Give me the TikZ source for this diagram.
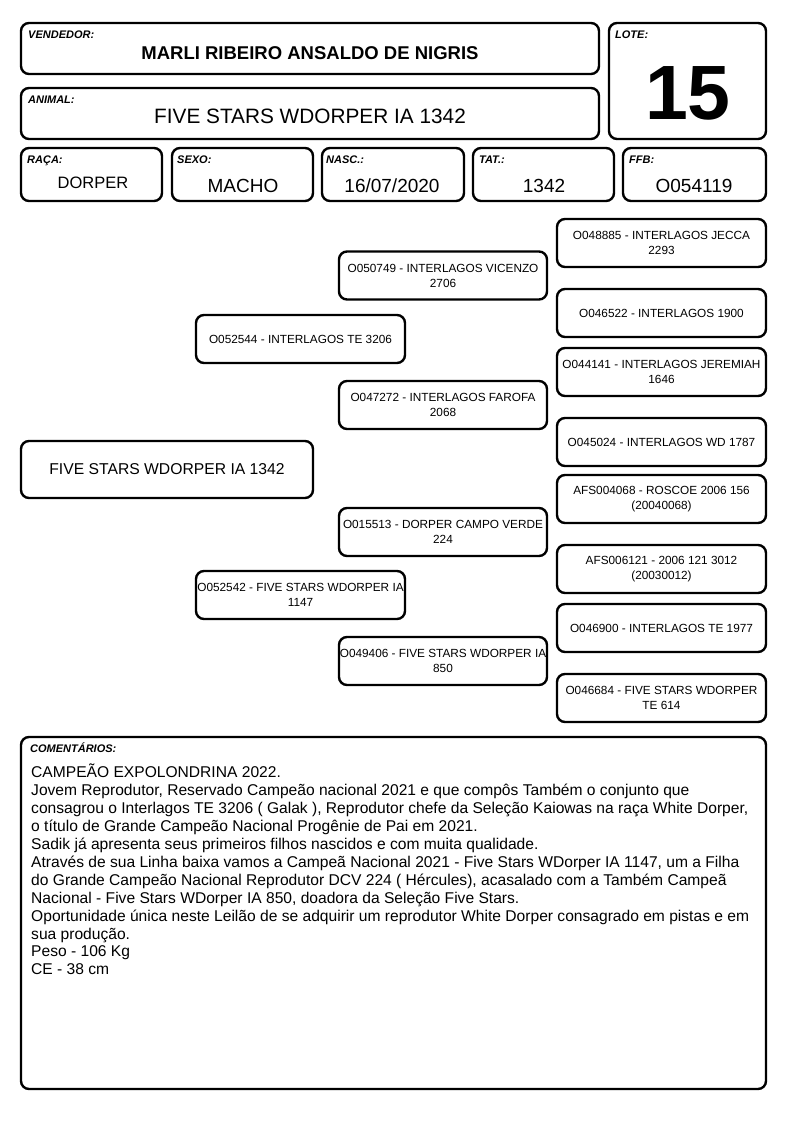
\documentclass[tikz,border=0pt]{standalone}
\usepackage{fontspec}
\setmainfont{Liberation Sans}
\begin{document}
\begin{tikzpicture}[x=1pt,y=-1pt,
  box/.style={draw,line width=2.4pt,rounded corners=8pt,inner sep=0pt,outer sep=0pt},
  lbl/.style={anchor=base west,inner sep=0pt,font=\fontsize{11}{12}\selectfont\bfseries\itshape},
  ped/.style={box,minimum width=208pt,minimum height=48pt,align=center,font=\fontsize{11.8}{15}\selectfont},
  val/.style={inner sep=0pt,font=\fontsize{19}{21}\selectfont}]
\useasboundingbox[fill=white] (0,0) rectangle (794,1123);
% header
\node[box,minimum width=578pt,minimum height=51pt] (vend) at (310,48.5) {};
\node[lbl] (vendl) at (28,39) {VENDEDOR:};
\node[inner sep=0pt,font=\fontsize{18.5}{20}\selectfont\bfseries] (vendv) at (310,53.5) {MARLI RIBEIRO ANSALDO DE NIGRIS};
\node[box,minimum width=157pt,minimum height=116pt] (lote) at (687.5,81) {};
\node[lbl] (lotel) at (615,39) {LOTE:};
\node[inner sep=0pt,font=\fontsize{77}{80}\selectfont\bfseries] (lotev) at (688,93) {15};
\node[box,minimum width=578pt,minimum height=51pt] (anim) at (310,113.5) {};
\node[lbl] (animl) at (28,104) {ANIMAL:};
\node[inner sep=0pt,font=\fontsize{20.8}{22}\selectfont] (animv) at (310,116) {FIVE STARS WDORPER IA 1342};
% fields
\node[box,minimum width=141pt,minimum height=53pt] (raca) at (91.5,174.5) {};
\node[lbl] (racal) at (27,164) {RAÇA:};
\node[val,font=\fontsize{16.5}{18}\selectfont] (racav) at (93,183) {DORPER};
\node[box,minimum width=141pt,minimum height=53pt] (sexo) at (242.5,174.5) {};
\node[lbl] (sexol) at (177,164) {SEXO:};
\node[val] (sexov) at (243,186) {MACHO};
\node[box,minimum width=142pt,minimum height=53pt] (nasc) at (393,174.5) {};
\node[lbl] (nascl) at (326,164) {NASC.:};
\node[val] (nascv) at (392,186) {16/07/2020};
\node[box,minimum width=141pt,minimum height=53pt] (tat) at (543.5,174.5) {};
\node[lbl] (tatl) at (479,164) {TAT.:};
\node[val] (tatv) at (544,186) {1342};
\node[box,minimum width=143pt,minimum height=53pt] (ffb) at (694.5,174.5) {};
\node[lbl] (ffbl) at (629,164) {FFB:};
\node[val] (ffbv) at (694,186) {O054119};
% pedigree
\node[box,minimum width=292pt,minimum height=57pt,font=\fontsize{15.7}{18}\selectfont] (main) at (167,469.5) {FIVE STARS WDORPER IA 1342};
\node[ped,minimum width=209pt] (p1) at (300.5,339) {O052544 - INTERLAGOS TE 3206};
\node[ped,minimum width=209pt] (p2) at (300.5,595) {O052542 - FIVE STARS WDORPER IA\\1147};
\node[ped] (g1) at (443,275.5) {O050749 - INTERLAGOS VICENZO\\2706};
\node[ped] (g2) at (443,405) {O047272 - INTERLAGOS FAROFA\\2068};
\node[ped] (g3) at (443,532) {O015513 - DORPER CAMPO VERDE\\224};
\node[ped] (g4) at (443,661) {O049406 - FIVE STARS WDORPER IA\\850};
\node[ped,minimum width=209pt] (h1) at (661.5,243) {O048885 - INTERLAGOS JECCA\\2293};
\node[ped,minimum width=209pt] (h2) at (661.5,313) {O046522 - INTERLAGOS 1900};
\node[ped,minimum width=209pt] (h3) at (661.5,372) {O044141 - INTERLAGOS JEREMIAH\\1646};
\node[ped,minimum width=209pt] (h4) at (661.5,442) {O045024 - INTERLAGOS WD 1787};
\node[ped,minimum width=209pt] (h5) at (661.5,499) {AFS004068 - ROSCOE 2006 156\\(20040068)};
\node[ped,minimum width=209pt] (h6) at (661.5,569) {AFS006121 - 2006 121 3012\\(20030012)};
\node[ped,minimum width=209pt] (h7) at (661.5,628) {O046900 - INTERLAGOS TE 1977};
\node[ped,minimum width=209pt] (h8) at (661.5,698) {O046684 - FIVE STARS WDORPER\\TE 614};
% comments
\node[box,minimum width=745pt,minimum height=352pt] (com) at (393.5,913) {};
\node[lbl] (coml) at (30,752) {COMENTÁRIOS:};
\node[anchor=north west,inner sep=0pt,align=left,font=\fontsize{15.6}{17.9}\selectfont] (comv) at (31,764) {CAMPEÃO EXPOLONDRINA 2022.\\
Jovem Reprodutor, Reservado Campeão nacional 2021 e que compôs Também o conjunto que\\
consagrou o Interlagos TE 3206 ( Galak ), Reprodutor chefe da Seleção Kaiowas na raça White Dorper,\\
o título de Grande Campeão Nacional Progênie de Pai em 2021.\\
Sadik já apresenta seus primeiros filhos nascidos e com muita qualidade.\\
Através de sua Linha baixa vamos a Campeã Nacional 2021 - Five Stars WDorper IA 1147, um a Filha\\
do Grande Campeão Nacional Reprodutor DCV 224 ( Hércules), acasalado com a Também Campeã\\
Nacional - Five Stars WDorper IA 850, doadora da Seleção Five Stars.\\
Oportunidade única neste Leilão de se adquirir um reprodutor White Dorper consagrado em pistas e em\\
sua produção.\\
Peso - 106 Kg\\
CE - 38 cm};
\end{tikzpicture}
\end{document}
